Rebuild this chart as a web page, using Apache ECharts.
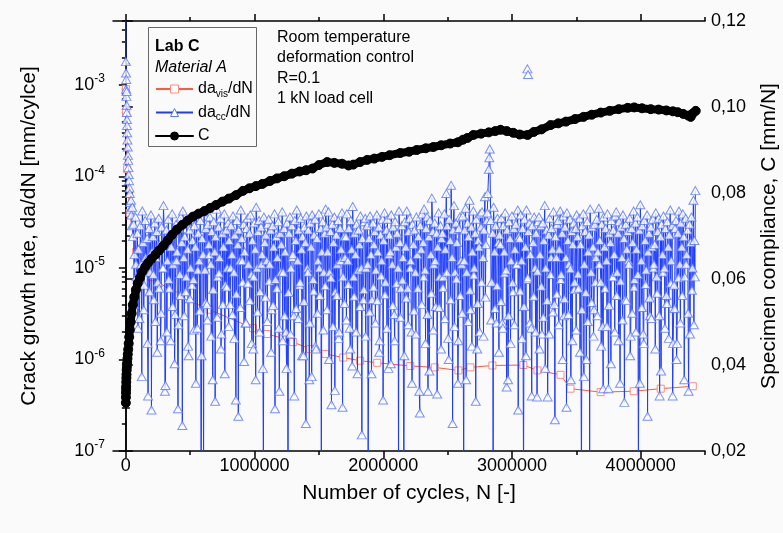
<!DOCTYPE html>
<html><head><meta charset="utf-8">
<script src="https://cdn.jsdelivr.net/npm/echarts@6/dist/echarts.min.js"></script>
<style>html,body{margin:0;padding:0;background:#fafafa}#c{width:783px;height:533px}</style>
</head><body><div id="c"></div>
<script>
// ---------- tick values ----------
const xLabelValues = [0, 1000000, 2000000, 3000000, 4000000];
const xMinorValues = [500000, 1500000, 2500000, 3500000, 4500000];
const logTickExponents = [-7, -6, -5, -4, -3];
const logMinorMantissas = [2, 3, 4, 5, 6, 7, 8, 9];

// ---------- da_cc/dN (blue triangles), main readings ----------
const ccN = [
 0,0,1000,2000,3000,4000,5000,6000,7000,8000,9000,10000,12000,14000,16000,18000,20000,22000,25000,28000,31000,34000,37000,40000,43000,46000,50000,55000,
 60000,67500,75000,82500,90000,97500,105000,112500,120000,127500,135000,142500,150000,157500,165000,172500,180000,187500,195000,202500,
 210000,217500,225000,232500,240000,247500,255000,262500,270000,277500,285000,292500,300000,307500,315000,322500,330000,337500,345000,352500,
 360000,367500,375000,382500,390000,397500,405000,412500,420000,427500,435000,442500,450000,457500,465000,472500,480000,487500,495000,502500,
 510000,517500,525000,532500,540000,547500,555000,562500,570000,577500,585000,592500,600000,607500,615000,622500,630000,637500,645000,652500,
 660000,667500,675000,682500,690000,697500,705000,712500,720000,727500,735000,742500,750000,757500,765000,772500,780000,787500,795000,802500,
 810000,817500,825000,832500,840000,847500,855000,862500,870000,877500,885000,892500,900000,907500,915000,922500,930000,937500,945000,952500,
 960000,967500,975000,982500,990000,997500,1005000,1012500,1020000,1027500,1035000,1042500,1050000,1057500,1065000,1072500,1080000,1087500,1095000,1102500,
 1110000,1117500,1125000,1132500,1140000,1147500,1155000,1162500,1170000,1177500,1185000,1192500,1200000,1207500,1215000,1222500,1230000,1237500,1245000,1252500,
 1260000,1267500,1275000,1282500,1290000,1297500,1305000,1312500,1320000,1327500,1335000,1342500,1350000,1357500,1365000,1372500,1380000,1387500,1395000,1402500,
 1410000,1417500,1425000,1432500,1440000,1447500,1455000,1462500,1470000,1477500,1485000,1492500,1500000,1507500,1515000,1522500,1530000,1537500,1545000,1552500,
 1560000,1567500,1575000,1582500,1590000,1597500,1605000,1612500,1620000,1627500,1635000,1642500,1650000,1657500,1665000,1672500,1680000,1687500,1695000,1702500,
 1710000,1717500,1725000,1732500,1740000,1747500,1755000,1762500,1770000,1777500,1785000,1792500,1800000,1807500,1815000,1822500,1830000,1837500,1845000,1852500,
 1860000,1867500,1875000,1882500,1890000,1897500,1905000,1912500,1920000,1927500,1935000,1942500,1950000,1957500,1965000,1972500,1980000,1987500,1995000,2002500,
 2010000,2017500,2025000,2032500,2040000,2047500,2055000,2062500,2070000,2077500,2085000,2092500,2100000,2107500,2115000,2122500,2130000,2137500,2145000,2152500,
 2160000,2167500,2175000,2182500,2190000,2197500,2205000,2212500,2220000,2227500,2235000,2242500,2250000,2257500,2265000,2272500,2280000,2287500,2295000,2302500,
 2310000,2317500,2325000,2332500,2340000,2347500,2355000,2362500,2370000,2377500,2385000,2392500,2400000,2407500,2415000,2422500,2430000,2437500,2445000,2452500,
 2460000,2467500,2475000,2482500,2490000,2497500,2505000,2512500,2520000,2527500,2535000,2542500,2550000,2557500,2565000,2572500,2580000,2587500,2595000,2602500,
 2610000,2617500,2625000,2632500,2640000,2647500,2655000,2662500,2670000,2677500,2685000,2692500,2700000,2707500,2715000,2722500,2730000,2737500,2745000,2752500,
 2760000,2767500,2775000,2782500,2790000,2797500,2805000,2812500,2820000,2827500,2835000,2842500,2850000,2857500,2865000,2872500,2880000,2887500,2895000,2902500,
 2910000,2917500,2925000,2932500,2940000,2947500,2955000,2962500,2970000,2977500,2985000,2992500,3000000,3007500,3015000,3022500,3030000,3037500,3045000,3052500,
 3060000,3067500,3075000,3082500,3090000,3097500,3105000,3112500,3120000,3127500,3135000,3142500,3150000,3157500,3165000,3172500,3180000,3187500,3195000,3202500,
 3210000,3217500,3225000,3232500,3240000,3247500,3255000,3262500,3270000,3277500,3285000,3292500,3300000,3307500,3315000,3322500,3330000,3337500,3345000,3352500,
 3360000,3367500,3375000,3382500,3390000,3397500,3405000,3412500,3420000,3427500,3435000,3442500,3450000,3457500,3465000,3472500,3480000,3487500,3495000,3502500,
 3510000,3517500,3525000,3532500,3540000,3547500,3555000,3562500,3570000,3577500,3585000,3592500,3600000,3607500,3615000,3622500,3630000,3637500,3645000,3652500,
 3660000,3667500,3675000,3682500,3690000,3697500,3705000,3712500,3720000,3727500,3735000,3742500,3750000,3757500,3765000,3772500,3780000,3787500,3795000,3802500,
 3810000,3817500,3825000,3832500,3840000,3847500,3855000,3862500,3870000,3877500,3885000,3892500,3900000,3907500,3915000,3922500,3930000,3937500,3945000,3952500,
 3960000,3967500,3975000,3982500,3990000,3997500,4005000,4012500,4020000,4027500,4035000,4042500,4050000,4057500,4065000,4072500,4080000,4087500,4095000,4102500,
 4110000,4117500,4125000,4132500,4140000,4147500,4155000,4162500,4170000,4177500,4185000,4192500,4200000,4207500,4215000,4222500,4230000,4237500,4245000,4252500,
 4260000,4267500,4275000,4282500,4290000,4297500,4305000,4312500,4320000,4327500,4335000,4342500,4350000,4357500,4365000,4372500,4380000,4387500,4395000,4402500,
 4410000,4417500,4425000
];
const ccRate = [
 8e-3,1.8e-3,1.35e-3,9e-4,1.15e-3,7.5e-4,8.5e-4,6e-4,5e-4,4.2e-4,3.6e-4,3e-4,2.5e-4,2.1e-4,1.7e-4,1.5e-4,1.25e-4,1.05e-4,9e-5,7.5e-5,6.5e-5,5.2e-5,4.4e-5,5.5e-5,3.8e-5,2.9e-5,4.6e-5,2.2e-5,
 3.0e-5,1.4e-5,3.6e-5,8.0e-6,2.4e-5,1.6e-5,2.8e-6,2.9e-5,1.1e-5,4.2e-5,1.9e-5,6.5e-6,3.3e-5,1.2e-5,2.1e-5,4.0e-7,2.7e-5,9.0e-6,3.8e-5,1.5e-5,
 2.2e-5,4.5e-6,3.1e-5,1.3e-5,2.5e-5,7.0e-6,3.5e-5,1.8e-5,1.6e-6,2.8e-5,1.0e-5,4.8e-5,2.0e-5,5.2e-7,2.6e-5,1.2e-5,3.4e-5,6.0e-6,2.3e-5,1.7e-5,
 3.9e-5,1.1e-5,2.4e-5,3.1e-6,3.0e-5,1.5e-5,2.9e-7,2.7e-5,8.5e-6,3.6e-5,1.9e-5,4.2e-5,1.3e-5,2.2e-5,5.5e-6,3.2e-5,1.6e-5,1.1e-6,2.6e-5,1.0e-5,
 3.4e-5,2.0e-5,7.5e-6,2.9e-5,1.7e-5,3.8e-5,2.2e-6,2.4e-5,1.2e-5,3.3e-5,5.0e-8,2.1e-5,1.4e-5,4.1e-5,9.5e-6,2.7e-5,4.0e-6,3.0e-5,1.8e-5,3.6e-5,
 1.1e-5,2.5e-5,6.0e-7,3.2e-5,1.5e-5,2.2e-5,4.4e-5,8.0e-6,2.8e-5,1.3e-5,3.5e-5,1.9e-6,2.4e-5,1.7e-5,3.9e-5,6.5e-6,2.6e-5,1.0e-5,3.1e-5,2.0e-5,
 4.0e-6,2.9e-5,1.4e-5,3.7e-5,9.0e-6,2.3e-5,3.6e-7,3.3e-5,1.8e-5,2.6e-5,1.2e-5,4.3e-5,2.1e-5,7.0e-6,3.0e-5,1.5e-5,2.5e-6,2.7e-5,3.5e-5,1.1e-5,
 2.4e-5,3.8e-5,8.5e-6,2.0e-5,1.3e-6,3.1e-5,1.6e-5,4.6e-5,1.0e-5,2.5e-5,3.3e-5,5.5e-6,2.8e-5,1.4e-5,8.0e-7,3.6e-5,1.9e-5,2.3e-5,1.2e-5,3.0e-5,
 3.4e-5,1.1e-5,2.6e-5,3.5e-6,2.9e-5,1.7e-5,3.9e-5,7.5e-6,2.2e-5,1.3e-5,3.2e-5,4.5e-7,2.4e-5,1.8e-5,4.1e-5,9.0e-6,2.7e-5,1.5e-5,2.0e-6,3.1e-5,
 5.0e-8,2.4e-5,3.6e-5,1.0e-5,2.9e-5,1.4e-5,3.0e-6,3.3e-5,2.0e-5,4.3e-5,1.2e-5,2.6e-5,6.5e-6,3.5e-5,1.6e-5,2.2e-5,1.1e-6,2.8e-5,1.9e-5,3.7e-5,
 1.0e-5,2.6e-5,6.0e-7,3.1e-5,1.7e-5,3.8e-5,7.5e-6,2.3e-5,3.4e-5,1.3e-6,2.1e-5,1.2e-5,3.9e-5,5.0e-6,2.7e-5,1.5e-5,3.2e-5,9.0e-6,2.4e-5,4.4e-5,
 2.8e-5,1.5e-5,4.1e-5,9.0e-6,2.5e-5,3.2e-7,3.0e-5,1.9e-5,3.6e-5,5.5e-6,2.3e-5,1.1e-5,3.3e-5,2.0e-6,2.7e-5,1.6e-5,4.0e-5,8.0e-6,2.2e-5,1.3e-5,
 2.2e-5,3.9e-5,1.2e-5,2.7e-5,2.2e-6,3.3e-5,1.6e-5,4.7e-5,8.0e-6,2.4e-5,1.4e-5,3.0e-5,7.0e-7,2.6e-5,1.8e-5,3.7e-5,1.0e-5,2.1e-5,4.5e-6,3.2e-5,
 3.5e-5,1.0e-5,2.9e-5,5.0e-8,2.1e-5,3.7e-5,1.4e-5,4.5e-6,3.1e-5,1.8e-5,2.5e-5,9.5e-6,3.8e-5,1.5e-5,2.8e-5,1.6e-6,2.3e-5,1.2e-5,3.4e-5,2.0e-5,
 4.0e-5,7.0e-6,2.6e-5,3.4e-5,8.0e-7,2.3e-5,1.5e-5,3.8e-5,1.1e-5,2.8e-5,3.1e-6,3.2e-5,1.7e-5,2.4e-5,1.0e-5,4.2e-5,1.9e-5,6.0e-6,2.9e-5,1.3e-5,
 5.0e-8,3.2e-5,1.7e-5,4.2e-5,6.0e-6,2.5e-5,3.5e-5,1.2e-5,2.0e-6,3.0e-5,1.8e-5,2.6e-5,9.0e-6,3.6e-5,1.4e-5,2.2e-5,4.5e-7,2.9e-5,1.6e-5,3.9e-5,
 1.9e-5,4.4e-5,9.5e-6,2.7e-5,3.6e-5,4.5e-7,2.2e-5,3.3e-5,1.4e-5,5.8e-5,2.5e-5,1.1e-5,3.1e-5,3.8e-6,2.4e-5,1.7e-5,4.0e-5,8.0e-6,2.9e-5,2.1e-5,
 2.4e-5,8.0e-6,3.9e-5,1.6e-5,6.5e-5,2.9e-5,1.7e-6,3.4e-5,2.0e-5,8.0e-5,1.3e-5,2.6e-5,4.8e-5,9.0e-6,3.1e-5,1.9e-5,5.5e-7,2.7e-5,3.6e-5,1.2e-5,
 1.1e-5,3.7e-5,5.0e-8,2.6e-5,4.5e-5,9.0e-6,3.1e-5,2.2e-5,5.5e-5,3.5e-6,2.8e-5,1.5e-5,4.2e-5,1.0e-5,2.4e-5,3.4e-5,1.3e-6,2.0e-5,1.7e-5,3.9e-5,
 2.8e-5,4.1e-5,1.3e-5,2.6e-5,6.0e-5,1.8e-5,3.3e-5,6.5e-5,1.2e-4,2.0e-4,3.3e-5,7.0e-6,2.4e-5,4.6e-5,1.5e-5,2.9e-5,2.5e-6,3.5e-5,1.9e-5,2.3e-5,
 1.8e-5,3.5e-5,2.5e-6,2.9e-5,1.5e-5,4.0e-5,9.5e-6,2.6e-5,6.0e-7,3.2e-5,2.1e-5,1.2e-5,3.7e-5,5.5e-6,2.7e-5,1.6e-5,3.0e-5,1.1e-5,4.3e-5,2.2e-5,
 2.1e-5,3.8e-5,1.2e-5,2.7e-5,5.0e-8,3.4e-5,1.7e-5,4.3e-5,7.5e-6,2.5e-5,3.1e-5,1.4e-5,2.2e-6,2.9e-5,1.9e-5,3.6e-5,1.0e-5,2.4e-5,3.9e-7,3.2e-5,
 3.6e-5,1.4e-5,2.9e-5,1.9e-6,3.1e-5,2.0e-5,4.8e-5,1.0e-5,2.6e-5,3.9e-7,2.3e-5,3.5e-5,8.5e-6,2.7e-5,1.6e-5,4.1e-5,4.0e-6,2.2e-5,1.3e-5,3.0e-5,
 3.3e-5,1.6e-5,4.2e-5,8.5e-6,2.4e-5,3.7e-5,3.0e-6,2.8e-5,1.3e-5,4.0e-5,2.0e-5,1.1e-5,3.4e-5,6.0e-7,2.5e-5,1.8e-5,3.1e-5,7.0e-6,2.7e-5,3.8e-5,
 2.2e-5,6.0e-6,3.5e-5,1.8e-5,5.0e-8,2.9e-5,3.9e-5,1.1e-5,2.5e-5,1.0e-6,3.2e-5,1.5e-5,2.3e-5,4.4e-5,9.0e-6,2.8e-5,1.7e-5,3.5e-6,3.0e-5,1.3e-5,
 3.4e-5,1.5e-5,4.5e-5,2.0e-5,7.0e-6,3.0e-5,2.3e-6,3.6e-5,1.7e-5,2.7e-5,1.2e-5,3.9e-5,4.8e-7,2.4e-5,1.9e-5,3.3e-5,8.0e-6,2.6e-5,1.4e-5,3.7e-5,
 4.1e-5,9.0e-6,2.4e-5,3.2e-5,5.5e-7,2.8e-5,1.3e-5,3.8e-5,2.1e-5,4.5e-6,3.0e-5,1.6e-5,2.5e-5,1.1e-5,3.5e-5,1.8e-6,2.7e-5,1.9e-5,4.2e-5,7.5e-6,
 3.1e-5,1.6e-5,3.6e-5,5.0e-8,2.6e-5,4.9e-5,1.2e-5,2.9e-5,1.9e-6,3.3e-5,2.0e-5,9.5e-6,3.8e-5,1.5e-5,2.4e-5,3.0e-6,2.8e-5,1.7e-5,3.4e-5,1.1e-5,
 1.8e-5,4.0e-5,8.0e-6,2.5e-5,3.5e-5,4.0e-7,2.2e-5,3.0e-5,1.4e-5,3.7e-5,1.0e-5,2.7e-5,5.0e-6,3.2e-5,1.7e-5,2.3e-5,4.3e-5,1.2e-5,2.9e-5,1.5e-6,
 6.5e-6,2.7e-5,3.3e-5,1.5e-6,2.4e-5,4.2e-5,1.1e-5,3.1e-5,1.7e-5,3.9e-5,2.2e-5,8.0e-6,3.5e-5,1.4e-5,2.6e-5,4.5e-7,3.0e-5,1.9e-5,3.6e-5,1.0e-5,
 5.5e-5,2.0e-5,7.0e-5
];
// ---------- da_cc/dN, intermediate readings (lower part of the scatter) ----------
const ccN2 = [
 63750,78750,93750,108750,123750,138750,153750,168750,183750,198750,
 213750,228750,243750,258750,273750,288750,303750,318750,333750,348750,
 363750,378750,393750,408750,423750,438750,453750,468750,483750,498750,
 513750,528750,543750,558750,573750,588750,603750,618750,633750,648750,
 663750,678750,693750,708750,723750,738750,753750,768750,783750,798750,
 813750,828750,843750,858750,873750,888750,903750,918750,933750,948750,
 963750,978750,993750,1008750,1023750,1038750,1053750,1068750,1083750,1098750,
 1113750,1128750,1143750,1158750,1173750,1188750,1203750,1218750,1233750,1248750,
 1263750,1278750,1293750,1308750,1323750,1338750,1353750,1368750,1383750,1398750,
 1413750,1428750,1443750,1458750,1473750,1488750,1503750,1518750,1533750,1548750,
 1563750,1578750,1593750,1608750,1623750,1638750,1653750,1668750,1683750,1698750,
 1713750,1728750,1743750,1758750,1773750,1788750,1803750,1818750,1833750,1848750,
 1863750,1878750,1893750,1908750,1923750,1938750,1953750,1968750,1983750,1998750,
 2013750,2028750,2043750,2058750,2073750,2088750,2103750,2118750,2133750,2148750,
 2163750,2178750,2193750,2208750,2223750,2238750,2253750,2268750,2283750,2298750,
 2313750,2328750,2343750,2358750,2373750,2388750,2403750,2418750,2433750,2448750,
 2463750,2478750,2493750,2508750,2523750,2538750,2553750,2568750,2583750,2598750,
 2613750,2628750,2643750,2658750,2673750,2688750,2703750,2718750,2733750,2748750,
 2763750,2778750,2793750,2808750,2823750,2838750,2853750,2868750,2883750,2898750,
 2913750,2928750,2943750,2958750,2973750,2988750,3003750,3018750,3033750,3048750,
 3063750,3078750,3093750,3108750,3123750,3138750,3153750,3168750,3183750,3198750,
 3213750,3228750,3243750,3258750,3273750,3288750,3303750,3318750,3333750,3348750,
 3363750,3378750,3393750,3408750,3423750,3438750,3453750,3468750,3483750,3498750,
 3513750,3528750,3543750,3558750,3573750,3588750,3603750,3618750,3633750,3648750,
 3663750,3678750,3693750,3708750,3723750,3738750,3753750,3768750,3783750,3798750,
 3813750,3828750,3843750,3858750,3873750,3888750,3903750,3918750,3933750,3948750,
 3963750,3978750,3993750,4008750,4023750,4038750,4053750,4068750,4083750,4098750,
 4113750,4128750,4143750,4158750,4173750,4188750,4203750,4218750,4233750,4248750,
 4263750,4278750,4293750,4308750,4323750,4338750,4353750,4368750,4383750,4398750,
 4413750,4421250
];
const ccRate2 = [
 4.0e-6,1.1e-5,2.2e-6,7.0e-6,6.5e-7,3.5e-6,1.3e-5,1.5e-6,5.5e-6,2.8e-7,
 8.5e-6,2.6e-6,1.2e-6,6.0e-6,3.2e-6,1.0e-5,4.5e-7,2.0e-6,7.5e-6,1.6e-6,
 3.8e-6,9.0e-7,1.2e-5,2.4e-6,5.0e-6,1.9e-7,3.0e-6,8.0e-6,1.4e-6,4.6e-6,
 6.5e-6,2.1e-6,5.5e-7,9.5e-6,3.4e-6,1.1e-6,5.0e-8,4.2e-6,2.7e-6,1.4e-5,
 1.8e-6,5.8e-6,3.5e-7,2.9e-6,8.8e-6,1.3e-6,4.0e-6,7.0e-7,6.2e-6,2.3e-6,
 1.0e-5,3.1e-6,1.7e-6,5.2e-6,2.4e-7,3.7e-6,1.2e-5,9.5e-7,2.5e-6,6.8e-6,
 4.4e-6,1.5e-6,8.0e-6,6.0e-7,3.3e-6,2.0e-6,1.1e-5,5.0e-8,4.8e-6,2.6e-6,
 7.2e-6,1.2e-6,3.9e-6,2.9e-7,6.0e-6,2.2e-6,9.0e-6,1.6e-6,3.0e-6,8.0e-7,
 5.4e-6,1.9e-6,1.3e-5,4.0e-7,3.6e-6,2.8e-6,7.0e-6,1.1e-6,4.3e-6,2.0e-7,
 9.0e-6,2.5e-6,6.5e-7,5.6e-6,1.4e-6,3.2e-6,1.0e-5,5.0e-8,2.1e-6,6.4e-6,
 3.5e-6,1.0e-6,7.8e-6,2.3e-6,4.6e-7,5.0e-6,1.7e-6,1.2e-5,3.0e-7,4.1e-6,
 2.7e-6,6.6e-6,1.3e-6,8.5e-7,4.9e-6,2.0e-6,9.5e-6,3.8e-6,1.5e-7,5.8e-6,
 1.8e-6,1.1e-5,3.3e-6,7.0e-7,6.2e-6,2.5e-6,4.4e-6,1.2e-6,8.2e-6,3.6e-7,
 5.1e-6,2.2e-6,1.4e-5,9.0e-7,3.9e-6,1.6e-6,6.8e-6,5.0e-8,2.9e-6,7.4e-6,
 1.1e-6,4.7e-6,2.4e-6,1.0e-5,5.5e-7,3.4e-6,1.9e-6,6.0e-6,2.6e-7,4.0e-6,
 8.0e-6,1.5e-6,3.1e-6,7.5e-7,5.3e-6,2.1e-6,1.2e-5,4.2e-7,3.7e-6,1.3e-6,
 6.1e-6,2.8e-6,9.0e-6,1.0e-6,4.5e-6,2.0e-7,2.3e-6,7.6e-6,1.6e-6,5.0e-6,
 3.2e-6,1.2e-5,6.0e-7,2.6e-6,5.7e-6,1.4e-6,8.4e-6,3.5e-7,4.1e-6,2.0e-6,
 7.0e-6,1.8e-6,4.8e-6,4.0e-5,1.6e-4,2.7e-6,5.0e-8,3.6e-6,6.4e-6,1.2e-6,
 4.3e-6,2.2e-6,8.8e-6,5.0e-7,3.0e-6,1.5e-6,6.9e-6,2.4e-6,1.1e-5,2.8e-7,
 5.6e-6,1.7e-6,3.8e-6,1.1e-6,7.8e-6,2.5e-6,4.0e-7,4.9e-6,2.0e-6,9.2e-6,
 1.3e-6,6.3e-6,2.9e-6,8.0e-7,4.4e-6,1.9e-6,1.3e-5,3.3e-6,2.2e-7,5.2e-6,
 2.4e-6,7.5e-6,1.0e-6,4.6e-6,3.0e-7,3.1e-6,9.8e-6,1.6e-6,5.8e-6,2.1e-6,
 8.6e-6,1.2e-6,3.5e-6,6.5e-7,5.4e-6,2.6e-6,5.0e-8,4.2e-6,1.8e-6,7.0e-6,
 3.0e-6,1.1e-5,1.4e-6,4.8e-7,6.0e-6,2.3e-6,3.9e-6,9.0e-7,8.0e-6,2.0e-6,
 5.0e-6,1.6e-6,7.2e-6,2.7e-6,3.4e-7,4.4e-6,1.2e-5,1.1e-6,3.2e-6,6.2e-6,
 2.0e-6,8.5e-6,5.5e-7,3.7e-6,1.5e-6,6.6e-6,2.4e-7,4.7e-6,2.8e-6,1.0e-5,
 1.3e-6,5.3e-6,3.0e-6,7.5e-7,9.0e-6,2.2e-6,4.1e-6,1.7e-6,6.8e-6,4.0e-7,
 3.6e-6,1.0e-6,7.8e-6,2.5e-6,5.0e-6,6.0e-7,1.1e-5,3.2e-6,1.9e-6,5.7e-6,
 2.4e-6,8.0e-6
];
// isolated da_cc/dN outliers
const ccOutlierN = [3120000, 3125000];
const ccOutlierRate = [1.5e-3, 1.3e-3];

// ---------- da_vis/dN (red squares) ----------
const visN = [0,2000,10000,30000,80000,200000,400000,650000,988000,1097000,1222000,1300000,1432000,1550000,1689000,1820000,1953000,2210000,2400000,2584000,2677000,2848000,3089000,3198000,3377000,3455000,3689000,3946000,4156000,4405000];
const visRate = [9e-4,5e-4,1.2e-4,4e-5,1.5e-5,8e-6,5e-6,3.5e-6,2.2e-6,1.9e-6,1.7e-6,1.55e-6,1.3e-6,1.15e-6,1.05e-6,9.7e-7,9.2e-7,8.5e-7,8.2e-7,7.6e-7,8.2e-7,8.6e-7,8.7e-7,7.6e-7,6.8e-7,4.8e-7,4.4e-7,4.5e-7,4.8e-7,5.1e-7];

// ---------- compliance C (black dots) ----------
const cN = [0,500,1000,1500,2000,3000,4000,5000,6500,8000,10000,12500,15000,18000,22000,26000,31000,37000,45000,54000,65000,78000,92000,109000,128000,150000,172000,200000,230000,260000,290000,325000,360000,397000,440000,480000,521000,565000,610000,654000,700000,750000,800000,855000,910000,960000,1010000,1060000,1120000,1175000,1230000,1290000,1350000,1400000,1450000,1500000,1564000,1620000,1680000,1730000,1767000,1820000,1875000,1930000,1990000,2050000,2132000,2200000,2260000,2330000,2389000,2450000,2520000,2580000,2620000,2654000,2700000,2760000,2820000,2870000,2911000,2960000,3010000,3060000,3121000,3170000,3230000,3300000,3360000,3420000,3490000,3556000,3620000,3690000,3760000,3830000,3899000,3950000,4010000,4078000,4140000,4200000,4250000,4288000,4330000,4370000,4389000,4405000,4428000];
const cVal = [0.0312,0.0325,0.0335,0.0343,0.0350,0.0360,0.0370,0.0378,0.0388,0.0396,0.0405,0.0415,0.0425,0.0436,0.0450,0.0465,0.0482,0.0500,0.0520,0.0540,0.0558,0.0575,0.0590,0.0603,0.0617,0.0628,0.0637,0.0647,0.0657,0.0667,0.0677,0.0690,0.0703,0.0715,0.0726,0.0736,0.0745,0.0752,0.0758,0.0765,0.0772,0.0780,0.0787,0.0795,0.0805,0.0811,0.0816,0.0821,0.0828,0.0834,0.0839,0.0845,0.0850,0.0853,0.0857,0.0865,0.0872,0.0870,0.0868,0.0864,0.0866,0.0872,0.0877,0.0880,0.0884,0.0888,0.0893,0.0896,0.0900,0.0904,0.0907,0.0911,0.0915,0.0918,0.0924,0.0928,0.0935,0.0938,0.0941,0.0944,0.0947,0.0944,0.0940,0.0936,0.0935,0.0942,0.0948,0.0958,0.0962,0.0966,0.0972,0.0977,0.0982,0.0987,0.0991,0.0995,0.0998,0.0999,0.0997,0.0995,0.0994,0.0992,0.0990,0.0988,0.0984,0.0980,0.0977,0.0985,0.0991];

// ---------- chart ----------
const FONT = "'Liberation Sans', Arial, sans-serif";
const Y_MIN = 1e-7, Y_MAX = 5e-3;
const X_MIN = -100000, X_MAX = 4500000;
const logMinor = [];
logTickExponents.forEach(e => logMinorMantissas.forEach(m => { const v = m * Math.pow(10, e); if (v <= Y_MAX * 1.0001) logMinor.push(Math.log10(v)); }));

const pairs = (a, b) => a.map((n, i) => [n, b[i]]);
// merge both da_cc/dN reading sets in cycle order (stable for equal N)
const ccAll = pairs(ccN, ccRate).concat(pairs(ccN2, ccRate2))
  .map((p, i) => [p[0], p[1], i]).sort((a, b) => a[0] - b[0] || a[2] - b[2]).map(p => [p[0], p[1]]);

const chart = echarts.init(document.getElementById('c'));
const baseX = {type: 'value', min: X_MIN, max: X_MAX, splitLine: {show: false}, gridIndex: 0};
const blk = {color: '#000', width: 1.5};
const triStyle = {color: '#ffffff', borderColor: '#5876ff', borderWidth: 1};

chart.setOption({
  animation: false,
  backgroundColor: '#fafafa',
  textStyle: {fontFamily: FONT},
  grid: {left: 113, right: 78, top: 21, bottom: 82, containLabel: false, outerBoundsMode: 'none'},
  xAxis: [
    Object.assign({}, baseX, {position: 'bottom',
      axisLine: {show: true, lineStyle: blk},
      axisTick: {show: true, length: 7, lineStyle: blk, customValues: xLabelValues},
      axisLabel: {show: true, customValues: xLabelValues, color: '#000', fontSize: 18, fontFamily: FONT, margin: 6, formatter: v => String(v)},
      name: 'Number of cycles, N [-]', nameLocation: 'middle', nameGap: 32,
      nameTextStyle: {fontSize: 21, color: '#000', fontFamily: FONT}}),
    Object.assign({}, baseX, {position: 'bottom',
      axisLine: {show: false}, axisLabel: {show: false},
      axisTick: {show: true, length: 4, lineStyle: blk, customValues: xMinorValues}}),
    Object.assign({}, baseX, {position: 'top',
      axisLine: {show: true, lineStyle: blk}, axisLabel: {show: false},
      axisTick: {show: true, length: 7, lineStyle: blk, customValues: xLabelValues}}),
    Object.assign({}, baseX, {position: 'top',
      axisLine: {show: false}, axisLabel: {show: false},
      axisTick: {show: true, length: 4, lineStyle: blk, customValues: xMinorValues}})
  ],
  yAxis: [
    {type: 'log', logBase: 10, min: Y_MIN, max: Y_MAX, position: 'left',
      axisLine: {show: true, lineStyle: blk}, axisTick: {show: false}, axisLabel: {show: false},
      splitLine: {show: false}, minorTick: {show: false},
      name: 'Crack growth rate, da/dN [mm/cylce]', nameLocation: 'middle', nameGap: 73, nameRotate: 90,
      nameTextStyle: {fontSize: 21, color: '#000', fontFamily: FONT}},
    {type: 'value', min: 0.02, max: 0.12, interval: 0.02, position: 'right',
      axisLine: {show: true, lineStyle: blk},
      axisTick: {show: true, length: 7, lineStyle: blk},
      minorTick: {show: true, splitNumber: 2, length: 4, lineStyle: blk},
      splitLine: {show: false},
      axisLabel: {color: '#000', fontSize: 18, fontFamily: FONT, margin: 6, formatter: v => v.toFixed(2).replace('.', ',')},
      name: 'Specimen compliance, C [mm/N]', nameLocation: 'middle', nameGap: 54, nameRotate: 90,
      nameTextStyle: {fontSize: 21, color: '#000', fontFamily: FONT}},
    {type: 'value', min: Math.log10(Y_MIN), max: Math.log10(Y_MAX), position: 'left',
      axisLine: {show: false}, splitLine: {show: false},
      axisTick: {show: true, length: 7, lineStyle: blk, customValues: logTickExponents},
      axisLabel: {show: true, customValues: logTickExponents, margin: 8,
        formatter: v => '{b|10}{e|' + Math.round(v) + '}',
        rich: {b: {fontSize: 18, lineHeight: 24, color: '#000', fontFamily: FONT},
               e: {fontSize: 12, lineHeight: 12, verticalAlign: 'top', color: '#000', fontFamily: FONT}}}},
    {type: 'value', min: Math.log10(Y_MIN), max: Math.log10(Y_MAX), position: 'left',
      axisLine: {show: false}, splitLine: {show: false}, axisLabel: {show: false},
      axisTick: {show: true, length: 4, lineStyle: blk, customValues: logMinor}}
  ],
  legend: {
    data: ['da_vis/dN', 'da_cc/dN', 'C'], orient: 'vertical', left: 155, top: 81,
    itemWidth: 37, itemHeight: 10, itemGap: 5.5, padding: 0, selectedMode: false,
    itemStyle: {borderWidth: 1},
    formatter: n => n === 'C' ? '{m|C}' : (n === 'da_vis/dN' ? '{m|da}{s|vis}{m|/dN}' : '{m|da}{s|cc}{m|/dN}'),
    textStyle: {fontFamily: FONT, color: '#000', rich: {
      m: {fontSize: 16, lineHeight: 20, color: '#000', fontFamily: FONT},
      s: {fontSize: 10, lineHeight: 10, verticalAlign: 'bottom', color: '#000', fontFamily: FONT}}}
  },
  graphic: [
    {type: 'rect', shape: {x: 148.5, y: 27.5, width: 108, height: 119}, style: {fill: 'none', stroke: '#666', lineWidth: 1}, z: 100},
    {type: 'text', x: 155, y: 47, style: {text: 'Lab C', font: "bold 16px 'Liberation Sans', Arial, sans-serif", fill: '#000', verticalAlign: 'middle'}, z: 100},
    {type: 'text', x: 155, y: 68, style: {text: 'Material A', font: "italic 16px 'Liberation Sans', Arial, sans-serif", fill: '#000', verticalAlign: 'middle'}, z: 100},
    {type: 'text', x: 277, y: 27, style: {text: 'Room temperature\ndeformation control\nR=0.1\n1 kN load cell', font: "16px 'Liberation Sans', Arial, sans-serif", lineHeight: 20.5, fill: '#000'}, z: 100}
  ],
  series: [
    {name: 'da_vis/dN', type: 'line', xAxisIndex: 0, yAxisIndex: 0, data: pairs(visN, visRate),
      showAllSymbol: true, symbol: 'rect', symbolSize: 7,
      lineStyle: {color: '#ff5a3c', width: 1},
      itemStyle: {color: '#ffffff', borderColor: '#ff8c7a', borderWidth: 1}, z: 1},
    {name: 'da_cc/dN', type: 'line', xAxisIndex: 0, yAxisIndex: 0, data: ccAll,
      showSymbol: false, symbol: 'triangle', symbolSize: [9, 8],
      lineStyle: {color: '#1e3cff', width: 1}, itemStyle: triStyle, z: 2},
    {name: 'da_cc/dN', type: 'scatter', xAxisIndex: 0, yAxisIndex: 0,
      data: ccAll.concat(pairs(ccOutlierN, ccOutlierRate)),
      symbol: 'triangle', symbolSize: [9, 8], large: false,
      itemStyle: triStyle, z: 2},
    {name: 'C', type: 'line', xAxisIndex: 0, yAxisIndex: 1, data: pairs(cN, cVal),
      showAllSymbol: true, symbol: 'circle', symbolSize: 9,
      lineStyle: {color: '#000', width: 8, cap: 'round', join: 'round'},
      itemStyle: {color: '#000', borderColor: '#000', borderWidth: 1}, z: 4}
  ]
});
</script>
</body></html>
